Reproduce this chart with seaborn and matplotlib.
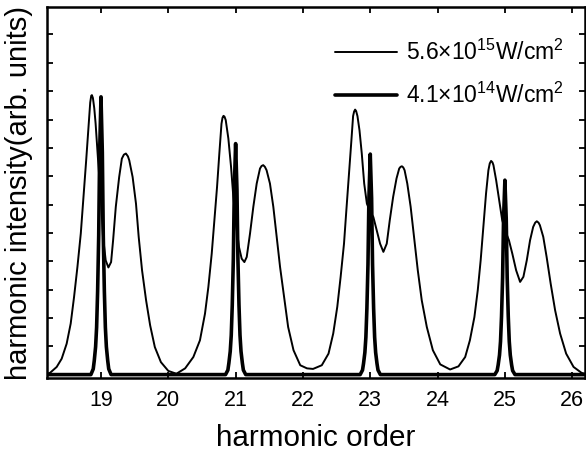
import matplotlib
matplotlib.use("Agg")
import matplotlib.pyplot as plt
import seaborn as sns
import pandas as pd

# ---- data ----
thin_x = [18.20, 18.242, 18.342, 18.416, 18.49, 18.55, 18.60, 18.65, 18.70, 18.74, 18.78, 18.82, 18.84, 18.855,
          18.865, 18.88, 18.90, 18.92, 18.96, 19.00, 19.03, 19.07, 19.11, 19.15, 19.18, 19.22, 19.27, 19.31,
          19.34, 19.37, 19.40, 19.42,
          19.47, 19.52, 19.56, 19.61, 19.67, 19.73, 19.80, 19.89, 20.00, 20.12,
          20.25, 20.372, 20.47, 20.545, 20.595, 20.645, 20.684, 20.724, 20.758, 20.79, 20.805, 20.82, 20.835,
          20.853, 20.892,
          20.932, 20.966, 21.006, 21.05, 21.09, 21.13, 21.165, 21.214, 21.263, 21.313, 21.362, 21.385, 21.41,
          21.435, 21.46,
          21.51, 21.56, 21.61, 21.66, 21.72, 21.78, 21.86, 21.96, 22.06, 22.15,
          22.28, 22.38, 22.45, 22.51, 22.56, 22.61, 22.645, 22.685, 22.72, 22.745, 22.76, 22.775, 22.79, 22.81,
          22.84, 22.874,
          22.91, 22.95, 23.00, 23.046, 23.096, 23.146, 23.195, 23.245, 23.29, 23.34, 23.39, 23.43, 23.45,
          23.47, 23.49, 23.51,
          23.55, 23.60, 23.65, 23.706, 23.765, 23.84, 23.93, 24.04, 24.186,
          24.31, 24.41, 24.48, 24.547, 24.597, 24.64, 24.68, 24.72, 24.755, 24.775, 24.795, 24.815, 24.83,
          24.87, 24.915, 24.96,
          25.013, 25.06, 25.11, 25.167, 25.226, 25.275, 25.325, 25.374, 25.42, 25.45, 25.474, 25.50, 25.52,
          25.57, 25.62,
          25.68, 25.746, 25.82, 25.91, 26.02, 26.14, 26.19]
thin_y = [0.03, 0.06, 0.27, 0.56, 1.09, 1.80, 2.74, 3.80, 4.98, 6.27, 7.56, 8.95, 9.60, 9.84,
          9.86, 9.76, 9.40, 8.86, 7.45, 6.15, 4.86, 4.03, 3.78, 3.97, 4.74, 5.92, 6.97, 7.62,
          7.76, 7.80, 7.70, 7.56,
          6.97, 6.03, 4.86, 3.68, 2.62, 1.74, 0.97, 0.44, 0.13, 0.03,
          0.22, 0.62, 1.21, 2.15, 3.09, 4.27, 5.45, 6.62, 7.80, 8.85, 9.06, 9.13, 9.10,
          8.98, 8.33,
          7.33, 6.27, 5.33, 4.50, 4.09, 3.97, 4.15, 4.98, 5.92, 6.74, 7.27, 7.36, 7.39,
          7.33, 7.21,
          6.74, 5.92, 4.86, 3.80, 2.74, 1.68, 0.86, 0.33, 0.22, 0.20,
          0.33, 0.74, 1.45, 2.39, 3.45, 4.62, 5.80, 7.09, 8.27, 9.12, 9.28, 9.35, 9.30, 9.12,
          8.62, 7.80,
          6.74, 6.03, 5.74, 5.56, 5.09, 4.62, 4.33, 4.62, 5.45, 6.27, 6.92, 7.27, 7.33,
          7.35, 7.31, 7.21,
          6.74, 5.92, 4.86, 3.68, 2.62, 1.68, 0.86, 0.36, 0.18,
          0.29, 0.62, 1.21, 2.03, 2.98, 4.03, 5.21, 6.39, 7.21, 7.45, 7.54, 7.49, 7.39,
          6.86, 6.15, 5.45,
          5.03, 4.74, 4.27, 3.68, 3.27, 3.45, 4.03, 4.74, 5.21, 5.36, 5.41, 5.36, 5.27,
          4.86, 4.15,
          3.21, 2.27, 1.45, 0.74, 0.27, 0.06, 0.03]

thick_x = [18.20,
           18.85, 18.885, 18.90, 18.92, 18.935, 18.95, 18.966, 18.98, 19.00, 19.02, 19.034, 19.05, 19.065, 19.08, 19.10, 19.115, 19.15,
           20.85, 20.885, 20.90, 20.92, 20.935, 20.95, 20.966, 20.98, 21.00, 21.02, 21.034, 21.05, 21.065, 21.08, 21.10, 21.115, 21.15,
           22.85, 22.885, 22.90, 22.92, 22.935, 22.95, 22.966, 22.98, 23.00, 23.02, 23.034, 23.05, 23.065, 23.08, 23.10, 23.115, 23.15,
           24.85, 24.885, 24.90, 24.92, 24.935, 24.95, 24.966, 24.98, 25.00, 25.02, 25.034, 25.05, 25.065, 25.08, 25.10, 25.115, 25.15,
           26.19]
thick_y = [0.0,
           0.0, 0.20, 0.49, 0.98, 1.67, 2.94, 4.90, 7.84, 9.80, 7.84, 4.90, 2.94, 1.67, 0.98, 0.49, 0.20, 0.0,
           0.0, 0.16, 0.41, 0.82, 1.39, 2.45, 4.08, 6.52, 8.15, 6.52, 4.08, 2.45, 1.39, 0.82, 0.41, 0.16, 0.0,
           0.0, 0.16, 0.39, 0.78, 1.32, 2.33, 3.89, 6.22, 7.78, 6.22, 3.89, 2.33, 1.32, 0.78, 0.39, 0.16, 0.0,
           0.0, 0.14, 0.34, 0.69, 1.17, 2.06, 3.43, 5.49, 6.86, 5.49, 3.43, 2.06, 1.17, 0.69, 0.34, 0.14, 0.0,
           0.0]

x_ticks = [19, 20, 21, 22, 23, 24, 25, 26]
y_ticks = list(range(0, 13))
labels = ["5.6×10$^{15}$W/cm$^{2}$", "4.1×10$^{14}$W/cm$^{2}$"]
x_label = "harmonic order"
y_label = "harmonic intensity(arb. units)"

# ---- plotting ----
sns.set_style("ticks")
plt.rcParams['font.family'] = ['Liberation Sans', 'DejaVu Sans']
plt.rcParams['mathtext.default'] = 'regular'
for key in ['text.color', 'axes.labelcolor', 'xtick.color', 'ytick.color', 'axes.edgecolor']:
    plt.rcParams[key] = 'black'

fig = plt.figure(figsize=(5.86, 4.53), dpi=100)
ax = fig.add_axes([47/586, 1 - 378/453, (585 - 47)/586, (378 - 7)/453])

df_thin = pd.DataFrame({"x": thin_x, "y": thin_y})
df_thick = pd.DataFrame({"x": thick_x, "y": thick_y})
sns.lineplot(data=df_thin, x="x", y="y", ax=ax, color="black", lw=1.4,
             sort=False, estimator=None, label=labels[0])
sns.lineplot(data=df_thick, x="x", y="y", ax=ax, color="black", lw=2.6,
             sort=False, estimator=None, label=labels[1])

ax.set_xlim(18.198, 26.19)
ax.set_ylim(-0.12, 12.97)
ax.set_xticks(x_ticks)
ax.set_yticks(y_ticks)
ax.set_yticklabels([])
ax.tick_params(direction="in", length=4, width=1.3, top=True, right=True,
               labelsize=15.5, pad=9, colors="black")
for s in ax.spines.values():
    s.set_linewidth(1.8)
    s.set_color("black")
ax.set_xlabel(x_label, fontsize=21.3, labelpad=9, color="black")
ax.set_ylabel(y_label, fontsize=21, labelpad=1, color="black")

leg = ax.legend(loc="upper left", bbox_to_anchor=((335 - 47)/538, (378 - 40)/371),
                frameon=False, fontsize=16.5, handlelength=2.7, handletextpad=0.4,
                labelspacing=0.76, borderpad=0, borderaxespad=0)
for t in leg.get_texts():
    t.set_color("black")

fig.savefig("out.png", dpi=100)
